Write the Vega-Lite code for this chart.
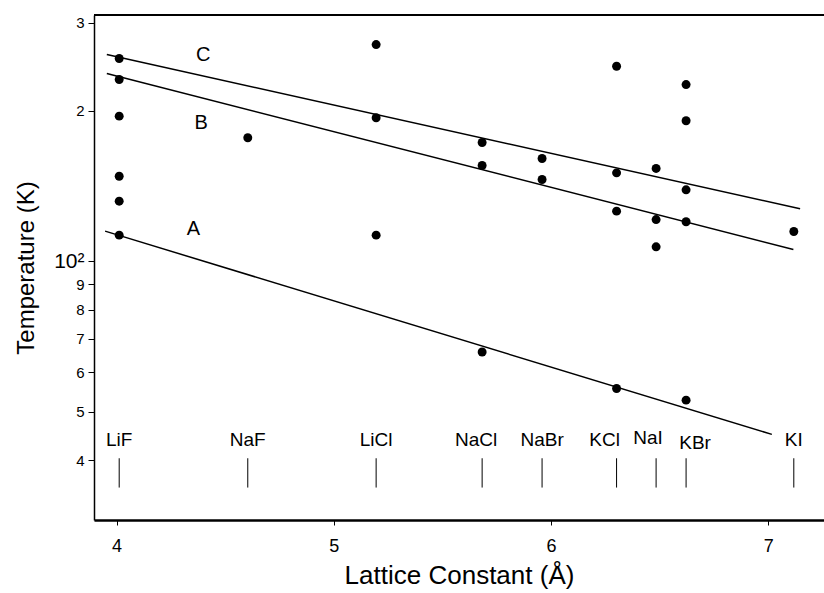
{
  "$schema": "https://vega.github.io/schema/vega-lite/v6.json",
  "width": 730,
  "height": 505,
  "autosize": "none",
  "padding": {"left": 94, "top": 15, "right": 0, "bottom": 73},
  "background": "white",
  "config": {
    "font": "Liberation Sans",
    "view": {"stroke": null},
    "axis": {"grid": false, "domainColor": "black", "tickColor": "black", "labelColor": "black", "titleColor": "black", "titleFontWeight": "normal", "labelFont": "Liberation Sans", "titleFont": "Liberation Sans"}
  },
  "datasets": {
    "pts": [
      {"compound": "LiF", "a": 4.012, "T": 254.7},
      {"compound": "LiF", "a": 4.012, "T": 231.2},
      {"compound": "LiF", "a": 4.012, "T": 195.3},
      {"compound": "LiF", "a": 4.012, "T": 148.1},
      {"compound": "LiF", "a": 4.012, "T": 132.0},
      {"compound": "LiF", "a": 4.012, "T": 112.9},
      {"compound": "NaF", "a": 4.604, "T": 176.8},
      {"compound": "LiCl", "a": 5.195, "T": 271.6},
      {"compound": "LiCl", "a": 5.195, "T": 193.9},
      {"compound": "LiCl", "a": 5.195, "T": 112.9},
      {"compound": "NaCl", "a": 5.683, "T": 173.0},
      {"compound": "NaCl", "a": 5.683, "T": 155.6},
      {"compound": "NaCl", "a": 5.683, "T": 65.9},
      {"compound": "NaBr", "a": 5.959, "T": 160.7},
      {"compound": "NaBr", "a": 5.959, "T": 145.9},
      {"compound": "KCl", "a": 6.302, "T": 245.8},
      {"compound": "KCl", "a": 6.302, "T": 150.4},
      {"compound": "KCl", "a": 6.302, "T": 126.1},
      {"compound": "KCl", "a": 6.302, "T": 55.7},
      {"compound": "NaI", "a": 6.484, "T": 153.5},
      {"compound": "NaI", "a": 6.484, "T": 121.3},
      {"compound": "NaI", "a": 6.484, "T": 107.0},
      {"compound": "KBr", "a": 6.622, "T": 225.9},
      {"compound": "KBr", "a": 6.622, "T": 191.2},
      {"compound": "KBr", "a": 6.622, "T": 139.1},
      {"compound": "KBr", "a": 6.622, "T": 120.1},
      {"compound": "KBr", "a": 6.622, "T": 52.8},
      {"compound": "KI", "a": 7.118, "T": 114.8}
    ],
    "fits": [
      {"series": "C", "a": 3.955, "T": 259.4},
      {"series": "C", "a": 7.147, "T": 127.5},
      {"series": "B", "a": 3.955, "T": 237.7},
      {"series": "B", "a": 7.116, "T": 105.7},
      {"series": "A", "a": 3.947, "T": 115.0},
      {"series": "A", "a": 7.017, "T": 45.1}
    ],
    "letters": [
      {"series": "C", "a": 4.399, "T": 259.4},
      {"series": "B", "a": 4.389, "T": 189.5},
      {"series": "A", "a": 4.354, "T": 116.4}
    ],
    "salts": [
      {"name": "LiF", "a": 4.012},
      {"name": "NaF", "a": 4.604},
      {"name": "LiCl", "a": 5.195},
      {"name": "NaCl", "a": 5.683},
      {"name": "NaBr", "a": 5.959},
      {"name": "KCl", "a": 6.302},
      {"name": "NaI", "a": 6.484},
      {"name": "KBr", "a": 6.622},
      {"name": "KI", "a": 7.118}
    ],
    "frame": [{"top": 311.2}]
  },
  "layer": [
    {
      "data": {"name": "pts"},
      "mark": {"type": "point", "filled": true, "color": "black", "opacity": 1, "size": 80},
      "encoding": {
        "x": {
          "field": "a", "type": "quantitative",
          "scale": {"domain": [3.896, 7.257], "nice": false, "zero": false},
          "axis": {"values": [4, 5, 6, 7], "format": "d", "title": "Lattice Constant (Å)", "labelFontSize": 18, "titleFontSize": 26, "labelPadding": 12, "tickSize": 5, "domainWidth": 2.5, "titlePadding": 7}
        },
        "y": {
          "field": "T", "type": "quantitative",
          "scale": {"type": "log", "domain": [30.4, 311.2], "nice": false, "zero": false},
          "axis": {"values": [40, 50, 60, 70, 80, 90, 100, 200, 300], "labelExpr": "datum.value == 100 ? '10²' : (datum.value > 100 ? format(datum.value / 100, 'd') : format(datum.value / 10, 'd'))", "title": "Temperature (K)", "labelFontSize": {"condition": {"test": "datum.value == 100", "value": 21}, "value": 15}, "titleFontSize": 24, "tickSize": 6, "labelPadding": 4, "domainWidth": 1.5, "titlePadding": 15}
        }
      }
    },
    {
      "data": {"name": "frame"},
      "mark": {"type": "rule", "color": "black", "strokeWidth": 2},
      "encoding": {"y": {"field": "top", "type": "quantitative"}}
    },
    {
      "data": {"name": "fits"},
      "mark": {"type": "line", "color": "black", "strokeWidth": 1.5},
      "encoding": {
        "x": {"field": "a", "type": "quantitative"},
        "y": {"field": "T", "type": "quantitative"},
        "detail": {"field": "series"}
      }
    },
    {
      "data": {"name": "letters"},
      "mark": {"type": "text", "fontSize": 20, "color": "black", "baseline": "middle", "align": "center"},
      "encoding": {
        "x": {"field": "a", "type": "quantitative"},
        "y": {"field": "T", "type": "quantitative"},
        "text": {"field": "series"}
      }
    },
    {
      "data": {"name": "salts"},
      "mark": {"type": "rule", "color": "black", "strokeWidth": 1},
      "encoding": {
        "x": {"field": "a", "type": "quantitative"},
        "y": {"datum": 40.4},
        "y2": {"datum": 35.3}
      }
    },
    {
      "data": {"name": "salts"},
      "transform": [{"filter": "indexof(['KCl', 'NaCl', 'NaI', 'KBr'], datum.name) < 0"}],
      "mark": {"type": "text", "fontSize": 19, "color": "black", "baseline": "middle", "align": "center"},
      "encoding": {
        "x": {"field": "a", "type": "quantitative"},
        "y": {"datum": 43.9},
        "text": {"field": "name"}
      }
    },
    {
      "data": {"name": "salts"},
      "transform": [{"filter": "datum.name == 'KCl'"}],
      "mark": {"type": "text", "fontSize": 19, "color": "black", "baseline": "middle", "align": "center", "dx": -12},
      "encoding": {
        "x": {"field": "a", "type": "quantitative"},
        "y": {"datum": 43.9},
        "text": {"field": "name"}
      }
    },
    {
      "data": {"name": "salts"},
      "transform": [{"filter": "datum.name == 'NaCl'"}],
      "mark": {"type": "text", "fontSize": 19, "color": "black", "baseline": "middle", "align": "center", "dx": -6},
      "encoding": {
        "x": {"field": "a", "type": "quantitative"},
        "y": {"datum": 43.9},
        "text": {"field": "name"}
      }
    },
    {
      "data": {"name": "salts"},
      "transform": [{"filter": "datum.name == 'NaI'"}],
      "mark": {"type": "text", "fontSize": 19, "color": "black", "baseline": "middle", "align": "center", "dx": -8, "dy": -2},
      "encoding": {
        "x": {"field": "a", "type": "quantitative"},
        "y": {"datum": 43.9},
        "text": {"field": "name"}
      }
    },
    {
      "data": {"name": "salts"},
      "transform": [{"filter": "datum.name == 'KBr'"}],
      "mark": {"type": "text", "fontSize": 19, "color": "black", "baseline": "middle", "align": "center", "dx": 9, "dy": 3},
      "encoding": {
        "x": {"field": "a", "type": "quantitative"},
        "y": {"datum": 43.9},
        "text": {"field": "name"}
      }
    }
  ]
}
